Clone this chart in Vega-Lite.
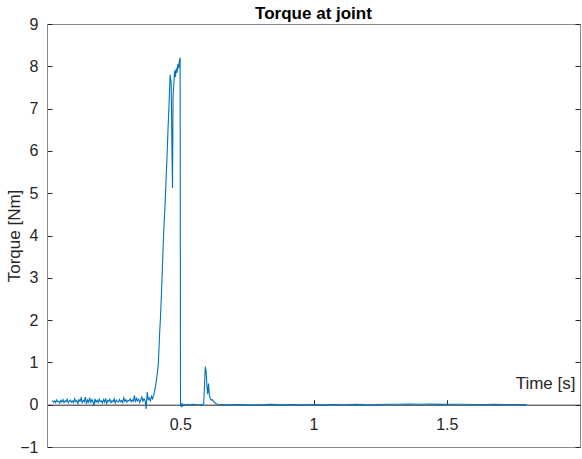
{
  "$schema": "https://vega.github.io/schema/vega-lite/v6.json",
  "width": 533,
  "height": 423,
  "autosize": {"type": "none"},
  "padding": {"left": 47, "top": 24, "right": 2, "bottom": 12},
  "background": "white",
  "title": {"text": "Torque at joint", "font": "Liberation Sans", "fontSize": 17, "fontWeight": "bold", "color": "#000000", "anchor": "middle", "offset": -7},
  "config": {
    "view": {"stroke": "#8a8a8a", "strokeWidth": 1},
    "axis": {"grid": false, "labelFont": "Liberation Sans", "titleFont": "Liberation Sans", "labelColor": "#262626", "titleColor": "#262626", "tickColor": "#262626", "domainColor": "#8a8a8a"}
  },
  "data": {"values": [
    {"t":0.020,"v":0.10},{"t":0.024,"v":0.06},{"t":0.028,"v":0.09},{"t":0.032,"v":0.05},{"t":0.036,"v":0.11},{"t":0.040,"v":0.07},{"t":0.044,"v":0.08},{"t":0.048,"v":0.04},{"t":0.052,"v":0.10},{"t":0.056,"v":0.06},
    {"t":0.060,"v":0.12},{"t":0.064,"v":0.05},{"t":0.068,"v":0.09},{"t":0.072,"v":0.07},{"t":0.076,"v":0.13},{"t":0.080,"v":0.04},{"t":0.084,"v":0.08},{"t":0.088,"v":0.11},{"t":0.092,"v":0.06},{"t":0.096,"v":0.09},
    {"t":0.100,"v":0.05},{"t":0.104,"v":0.14},{"t":0.108,"v":0.07},{"t":0.112,"v":0.10},{"t":0.116,"v":0.03},{"t":0.120,"v":0.12},{"t":0.124,"v":0.08},{"t":0.128,"v":0.16},{"t":0.132,"v":0.05},{"t":0.136,"v":0.10},
    {"t":0.140,"v":0.07},{"t":0.144,"v":0.18},{"t":0.148,"v":0.02},{"t":0.152,"v":0.11},{"t":0.156,"v":0.06},{"t":0.160,"v":0.17},{"t":0.164,"v":0.04},{"t":0.168,"v":0.12},{"t":0.172,"v":0.08},{"t":0.176,"v":-0.03},
    {"t":0.180,"v":0.14},{"t":0.184,"v":0.06},{"t":0.188,"v":0.10},{"t":0.192,"v":0.05},{"t":0.196,"v":0.13},{"t":0.200,"v":0.07},{"t":0.204,"v":0.09},{"t":0.208,"v":0.04},{"t":0.212,"v":0.12},{"t":0.216,"v":0.06},
    {"t":0.220,"v":0.15},{"t":0.224,"v":0.03},{"t":0.228,"v":0.10},{"t":0.232,"v":0.08},{"t":0.236,"v":0.13},{"t":0.240,"v":0.05},{"t":0.244,"v":0.09},{"t":0.248,"v":0.07},{"t":0.252,"v":0.14},{"t":0.256,"v":0.04},
    {"t":0.260,"v":0.11},{"t":0.264,"v":0.08},{"t":0.268,"v":0.06},{"t":0.272,"v":0.12},{"t":0.276,"v":0.07},{"t":0.280,"v":0.10},{"t":0.284,"v":0.05},{"t":0.288,"v":0.16},{"t":0.292,"v":0.08},{"t":0.296,"v":0.12},
    {"t":0.300,"v":0.06},{"t":0.304,"v":0.10},{"t":0.308,"v":0.09},{"t":0.312,"v":0.14},{"t":0.316,"v":0.07},{"t":0.320,"v":0.11},{"t":0.324,"v":0.08},{"t":0.328,"v":0.22},{"t":0.332,"v":0.06},{"t":0.336,"v":0.15},
    {"t":0.340,"v":0.09},{"t":0.344,"v":0.13},{"t":0.348,"v":0.05},{"t":0.352,"v":0.12},{"t":0.356,"v":0.18},{"t":0.360,"v":0.08},{"t":0.364,"v":0.14},{"t":0.368,"v":0.10},{"t":0.372,"v":-0.10},{"t":0.376,"v":0.30},
    {"t":0.380,"v":0.12},{"t":0.384,"v":0.16},{"t":0.388,"v":0.09},{"t":0.392,"v":0.20},{"t":0.396,"v":0.14},{"t":0.400,"v":0.22},{"t":0.404,"v":0.32},{"t":0.410,"v":0.55},{"t":0.414,"v":0.75},{"t":0.418,"v":1.0},
    {"t":0.422,"v":1.6},{"t":0.426,"v":2.1},{"t":0.430,"v":2.7},{"t":0.434,"v":3.4},{"t":0.438,"v":4.1},{"t":0.442,"v":4.6},{"t":0.446,"v":5.2},{"t":0.450,"v":5.8},{"t":0.454,"v":6.5},{"t":0.458,"v":7.1},
    {"t":0.462,"v":7.8},{"t":0.466,"v":7.6},{"t":0.469,"v":6.0},{"t":0.471,"v":5.12},{"t":0.473,"v":7.3},{"t":0.476,"v":7.6},{"t":0.479,"v":7.9},{"t":0.482,"v":7.75},{"t":0.485,"v":7.95},{"t":0.488,"v":7.85},
    {"t":0.491,"v":8.05},{"t":0.494,"v":7.95},{"t":0.497,"v":8.15},{"t":0.4995,"v":8.2},{"t":0.501,"v":0.05},{"t":0.504,"v":-0.06},{"t":0.507,"v":0.02},{"t":0.510,"v":-0.03},{"t":0.514,"v":0.01},{"t":0.520,"v":-0.02},
    {"t":0.526,"v":0.01},{"t":0.535,"v":0.0},{"t":0.550,"v":0.01},{"t":0.565,"v":0.0},{"t":0.580,"v":0.0},{"t":0.588,"v":0.02},{"t":0.591,"v":0.45},{"t":0.594,"v":0.90},{"t":0.597,"v":0.80},{"t":0.600,"v":0.45},
    {"t":0.603,"v":0.25},{"t":0.606,"v":0.50},{"t":0.609,"v":0.25},{"t":0.612,"v":0.15},{"t":0.616,"v":0.11},{"t":0.620,"v":0.12},{"t":0.624,"v":0.09},{"t":0.628,"v":0.06},{"t":0.632,"v":0.03},{"t":0.640,"v":0.01},
    {"t":0.680,"v":0.0},{"t":0.720,"v":0.005},{"t":0.760,"v":-0.005},{"t":0.800,"v":0.0},{"t":0.840,"v":0.008},{"t":0.880,"v":-0.004},{"t":0.920,"v":0.004},{"t":0.960,"v":0.0},{"t":1.000,"v":0.006},{"t":1.040,"v":-0.005},
    {"t":1.080,"v":0.003},{"t":1.120,"v":0.0},{"t":1.160,"v":0.007},{"t":1.200,"v":-0.004},{"t":1.240,"v":0.005},{"t":1.280,"v":0.01},{"t":1.320,"v":0.012},{"t":1.360,"v":0.015},{"t":1.400,"v":0.01},{"t":1.440,"v":0.014},
    {"t":1.480,"v":0.008},{"t":1.520,"v":0.012},{"t":1.560,"v":0.01},{"t":1.600,"v":0.006},{"t":1.640,"v":0.004},{"t":1.680,"v":0.008},{"t":1.720,"v":0.003},{"t":1.760,"v":0.006},{"t":1.800,"v":0.002}
  ]},
  "layer": [
    {
      "mark": {"type": "line", "color": "#0072BD", "strokeWidth": 1.1, "clip": true},
      "encoding": {
        "x": {"field": "t", "type": "quantitative", "scale": {"domain": [0, 2], "nice": false},
          "axis": {"orient": "bottom", "offset": -42.3, "values": [0.5, 1, 1.5], "labelExpr": "'' + datum.value", "tickSize": -5, "labelPadding": 17, "labelFontSize": 16, "domainColor": "#262626", "tickColor": "#262626",
            "title": "Time [s]", "titleFontSize": 17, "titleFontWeight": "normal", "titleX": 528, "titleY": -16, "titleAlign": "right", "titleBaseline": "alphabetic", "titleAnchor": null}},
        "y": {"field": "v", "type": "quantitative", "scale": {"domain": [-1, 9], "nice": false, "zero": false},
          "axis": {"orient": "left", "values": [-1, 0, 1, 2, 3, 4, 5, 6, 7, 8, 9], "tickSize": -5, "labelPadding": 14, "labelFontSize": 16,
            "title": "Torque [Nm]", "titleFontSize": 17, "titleFontWeight": "normal", "titleX": -33, "titleY": 211.5, "titleAngle": -90, "titleAlign": "center", "titleBaseline": "middle", "titleAnchor": null}}
      }
    },
    {
      "mark": {"type": "line", "opacity": 0},
      "encoding": {
        "x": {"field": "t", "type": "quantitative"},
        "y": {"field": "v", "type": "quantitative",
          "axis": {"orient": "right", "values": [-1, 0, 1, 2, 3, 4, 5, 6, 7, 8, 9], "tickSize": -5, "labels": false, "domain": false, "title": null}}
      }
    }
  ],
  "resolve": {"axis": {"y": "independent"}}
}
